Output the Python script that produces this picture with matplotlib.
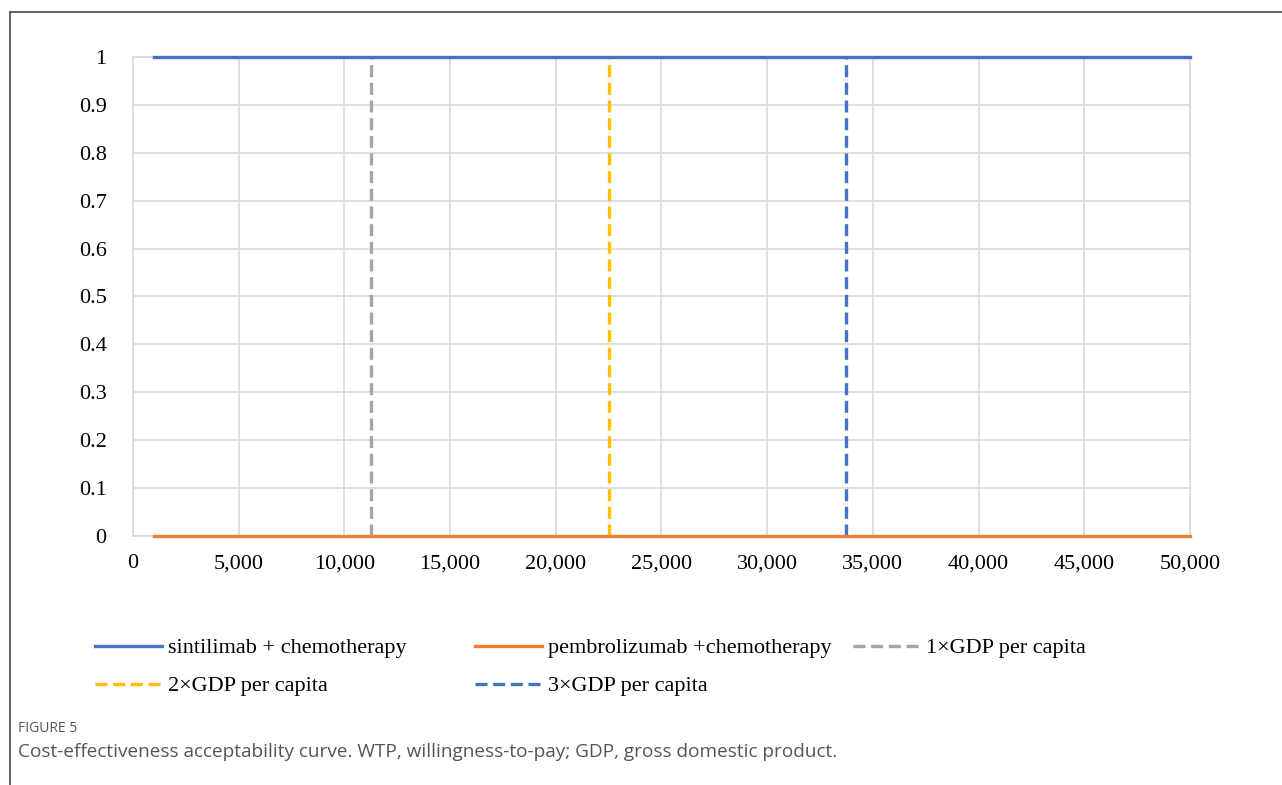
import matplotlib.pyplot as plt
from matplotlib.lines import Line2D

# WTP values (x) and acceptability probabilities
wtp = [1000, 5000, 10000, 15000, 20000, 25000, 30000, 35000, 40000, 45000, 50000]
sintilimab = [1, 1, 1, 1, 1, 1, 1, 1, 1, 1, 1]
pembrolizumab = [0, 0, 0, 0, 0, 0, 0, 0, 0, 0, 0]

# GDP per capita thresholds
gdp_labels = ["1×GDP per capita", "2×GDP per capita", "3×GDP per capita"]
gdp_values = [11250, 22500, 33750]
gdp_colors = ["#A5A5A5", "#FFC000", "#4472C4"]

x_ticks = [0, 5000, 10000, 15000, 20000, 25000, 30000, 35000, 40000, 45000, 50000]
y_ticks = [0, 0.1, 0.2, 0.3, 0.4, 0.5, 0.6, 0.7, 0.8, 0.9, 1]
y_ticklabels = ["0", "0.1", "0.2", "0.3", "0.4", "0.5", "0.6", "0.7", "0.8", "0.9", "1"]

plt.rcParams["font.family"] = ["Liberation Serif", "DejaVu Serif"]

fig = plt.figure(figsize=(12.82, 7.85), dpi=100)
ax = fig.add_axes([0.1037, 0.3172, 0.8245, 0.6102])

dash = (3.6, 1.7)
h_sint, = ax.plot(wtp, sintilimab, color="#4472C4", lw=2.4, label="sintilimab + chemotherapy",
                  zorder=4, clip_on=False)
h_pemb, = ax.plot(wtp, pembrolizumab, color="#ED7D31", lw=2.4, label="pembrolizumab +chemotherapy",
                  zorder=4, clip_on=False)
gdp_handles = []
for lab, val, col in zip(gdp_labels, gdp_values, gdp_colors):
    h, = ax.plot([val, val], [0, 1], color=col, lw=2.4, dashes=dash, label=lab, zorder=3)
    gdp_handles.append(h)

ax.set_xlim(0, 50000)
ax.set_ylim(0, 1)
ax.set_xticks(x_ticks)
ax.set_xticklabels([f"{v:,}" for v in x_ticks])
ax.set_yticks(y_ticks)
ax.set_yticklabels(y_ticklabels)
ax.tick_params(length=0, labelsize=16, colors="black")
ax.tick_params(axis="x", pad=13)
ax.tick_params(axis="y", pad=19)
ax.grid(True, color="#D9D9D9", lw=1.2)
for s in ax.spines.values():
    s.set_color("#D9D9D9")
    s.set_linewidth(1.2)

# legend entries placed like the original (row-wise, fixed columns)
entries = [
    (h_sint, 95, 648), (h_pemb, 475, 648), (gdp_handles[0], 853, 648),
    (gdp_handles[1], 95, 686), (gdp_handles[2], 475, 686),
]
W, H = 1282, 785
for h, px, py in entries:
    fig.legend(handles=[h], loc="center left", bbox_to_anchor=(px / W, 1 - py / H),
               frameon=False, borderpad=0, borderaxespad=0, handlelength=3.0,
               handletextpad=0.3, fontsize=16)

# outer frame (top and left)
fig.add_artist(Line2D([10 / W, 1], [1 - 12 / H, 1 - 12 / H], color="#555555", lw=1.3))
fig.add_artist(Line2D([10 / W, 10 / W], [0, 1 - 12 / H], color="#555555", lw=1.3))

# caption
fig.text(18 / W, 1 - 728 / H, "FIGURE 5", fontsize=10, color="#555555",
         family="Open Sans", va="center")
fig.text(18 / W, 1 - 752 / H,
         "Cost-effectiveness acceptability curve. WTP, willingness-to-pay; GDP, gross domestic product.",
         fontsize=13.7, color="#555555", family="Open Sans", va="center")

fig.savefig("out.png", dpi=100)
